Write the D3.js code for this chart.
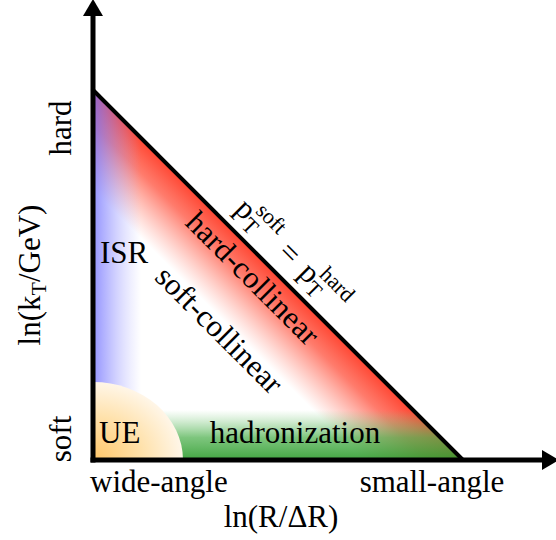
<!DOCTYPE html>
<html>
<head>
<meta charset="utf-8">
<script src="https://cdn.jsdelivr.net/npm/d3@7"></script>
<style>
  body { margin: 0; background: #fff; }
  text { font-family: "Liberation Serif", "Times New Roman", serif; fill: #000; }
</style>
</head>
<body>
<script>
// Lund plane sketch: normalised ln(R/dR) on x, ln(kT/GeV) on y
var dominio = [0, 1];
var triangulo = [[0, 1], [0, 0], [1, 0]];
var extremosY = ["soft", "hard"];
var extremosX = ["wide-angle", "small-angle"];
var regiones = ["ISR", "UE", "soft-collinear", "hard-collinear", "hadronization"];
var tituloX = "ln(R/\u0394R)";
var tituloY = ["ln(k", "T", "/GeV)"];
var frontera = [{ p: "p", sub: "T", sup: "soft" }, "=", { p: "p", sub: "T", sup: "hard" }];

var ancho = 556;
var altura = 540;

var svg = d3.select("body")
    .append("svg")
    .attr("width", ancho)
    .attr("height", altura);

var escalaX = d3.scaleLinear().domain(dominio).range([93, 463]);
var escalaY = d3.scaleLinear().domain(dominio).range([460, 90]);

var defs = svg.append("defs");

var puntos = triangulo.map(function (d) { return [escalaX(d[0]), escalaY(d[1])]; });

defs.append("clipPath").attr("id", "clipTri")
    .append("polygon")
    .attr("points", puntos.map(function (p) { return p.join(","); }).join(" "));

// red band along the hypotenuse, gradient perpendicular to it
var rojo = defs.append("linearGradient").attr("id", "gradRojo")
    .attr("gradientUnits", "userSpaceOnUse")
    .attr("x1", escalaX(0.5)).attr("y1", escalaY(0.5))
    .attr("x2", escalaX(0.5) - 50).attr("y2", escalaY(0.5) + 50);
rojo.append("stop").attr("offset", 0).attr("stop-color", "rgb(255,70,50)").attr("stop-opacity", 1);
rojo.append("stop").attr("offset", 0.35).attr("stop-color", "rgb(255,80,60)").attr("stop-opacity", 0.75);
rojo.append("stop").attr("offset", 1).attr("stop-color", "rgb(255,120,100)").attr("stop-opacity", 0);

var azul = defs.append("linearGradient").attr("id", "gradAzul")
    .attr("gradientUnits", "userSpaceOnUse")
    .attr("x1", escalaX(0)).attr("y1", 0)
    .attr("x2", escalaX(0) + 48).attr("y2", 0);
azul.append("stop").attr("offset", 0).attr("stop-color", "rgb(110,110,255)").attr("stop-opacity", 0.75);
azul.append("stop").attr("offset", 0.5).attr("stop-color", "rgb(130,130,255)").attr("stop-opacity", 0.35);
azul.append("stop").attr("offset", 1).attr("stop-color", "rgb(160,160,255)").attr("stop-opacity", 0);

var verde = defs.append("linearGradient").attr("id", "gradVerde")
    .attr("gradientUnits", "userSpaceOnUse")
    .attr("x1", 0).attr("y1", escalaY(0))
    .attr("x2", 0).attr("y2", escalaY(0) - 50);
verde.append("stop").attr("offset", 0).attr("stop-color", "rgb(45,155,45)").attr("stop-opacity", 0.9);
verde.append("stop").attr("offset", 0.45).attr("stop-color", "rgb(75,175,75)").attr("stop-opacity", 0.72);
verde.append("stop").attr("offset", 1).attr("stop-color", "rgb(120,200,120)").attr("stop-opacity", 0);

var naranja = defs.append("radialGradient").attr("id", "gradNaranja");
naranja.append("stop").attr("offset", 0).attr("stop-color", "rgb(255,198,105)");
naranja.append("stop").attr("offset", 0.55).attr("stop-color", "rgb(255,225,170)");
naranja.append("stop").attr("offset", 1).attr("stop-color", "rgb(255,246,232)");

var zonas = svg.append("g").attr("clip-path", "url(#clipTri)");

zonas.append("rect")
    .attr("x", escalaX(0)).attr("y", escalaY(1))
    .attr("width", escalaX(1) - escalaX(0)).attr("height", escalaY(0) - escalaY(1))
    .attr("fill", "url(#gradRojo)");

zonas.append("rect")
    .attr("x", escalaX(0)).attr("y", escalaY(1))
    .attr("width", 60).attr("height", escalaY(0) - escalaY(1))
    .attr("fill", "url(#gradAzul)");

zonas.append("rect")
    .attr("x", escalaX(0)).attr("y", escalaY(0) - 55)
    .attr("width", escalaX(1) - escalaX(0)).attr("height", 55)
    .attr("fill", "url(#gradVerde)");

zonas.append("ellipse")
    .attr("cx", escalaX(0)).attr("cy", escalaY(0))
    .attr("rx", 90).attr("ry", 78)
    .attr("fill", "url(#gradNaranja)");

// hypotenuse p_T^soft = p_T^hard
svg.append("line")
    .attr("x1", escalaX(0)).attr("y1", escalaY(1))
    .attr("x2", escalaX(1)).attr("y2", escalaY(0))
    .attr("stroke", "#000")
    .attr("stroke-width", 4)
    .attr("stroke-linecap", "round");

// axes with arrows
svg.append("line")
    .attr("x1", escalaX(0)).attr("y1", escalaY(0) + 2.5)
    .attr("x2", escalaX(0)).attr("y2", 14)
    .attr("stroke", "#000").attr("stroke-width", 5);
svg.append("polygon")
    .attr("points", [[escalaX(0), -1], [escalaX(0) - 10, 16], [escalaX(0) + 10, 16]].join(" "))
    .attr("fill", "#000");

svg.append("line")
    .attr("x1", escalaX(0) - 2.5).attr("y1", escalaY(0))
    .attr("x2", 544).attr("y2", escalaY(0))
    .attr("stroke", "#000").attr("stroke-width", 5);
svg.append("polygon")
    .attr("points", [[559, escalaY(0)], [542, escalaY(0) - 10], [542, escalaY(0) + 10]].join(" "))
    .attr("fill", "#000");

var tam = 31;
var tamPeq = 22;

// end labels on the axes
svg.append("text").attr("transform", "translate(71,439) rotate(-90)")
    .attr("text-anchor", "middle").style("font-size", tam + "px").text(extremosY[0]);
svg.append("text").attr("transform", "translate(71,128) rotate(-90)")
    .attr("text-anchor", "middle").style("font-size", tam + "px").text(extremosY[1]);

svg.append("text").attr("x", 90).attr("y", 492)
    .style("font-size", tam + "px").text(extremosX[0]);
svg.append("text").attr("x", 432).attr("y", 492)
    .attr("text-anchor", "middle").style("font-size", tam + "px").text(extremosX[1]);

svg.append("text").attr("x", 281).attr("y", 527)
    .attr("text-anchor", "middle").style("font-size", tam + "px").text(tituloX);

var ty = svg.append("text").attr("transform", "translate(40,275) rotate(-90)")
    .attr("text-anchor", "middle").style("font-size", tam + "px");
ty.append("tspan").text(tituloY[0]);
ty.append("tspan").attr("dy", 6).style("font-size", tamPeq + "px").text(tituloY[1]);
ty.append("tspan").attr("dy", -6).text(tituloY[2]);

// region names
svg.append("text").attr("x", 100).attr("y", 263).style("font-size", tam + "px").text(regiones[0]);
svg.append("text").attr("x", 99).attr("y", 443).style("font-size", tam + "px").text(regiones[1]);
svg.append("text").attr("transform", "translate(212,337) rotate(45)")
    .attr("text-anchor", "middle").style("font-size", tam + "px").text(regiones[2]);
svg.append("text").attr("transform", "translate(245.5,285.5) rotate(45)")
    .attr("text-anchor", "middle").style("font-size", tam + "px").text(regiones[3]);
svg.append("text").attr("x", 295).attr("y", 443)
    .attr("text-anchor", "middle").style("font-size", tam + "px").text(regiones[4]);

// boundary label, built in a frame rotated along the hypotenuse
var g = svg.append("g").attr("transform", "translate(283,260) rotate(45)");
var piezas = [
    { d: frontera[0], x: -70 },
    { d: frontera[1], x: 0 },
    { d: frontera[2], x: 20 }
];
piezas.forEach(function (pz) {
    if (typeof pz.d === "string") {
        g.append("text").attr("x", pz.x).attr("y", 0)
            .attr("text-anchor", "middle").style("font-size", tam + "px").text(pz.d);
    } else {
        g.append("text").attr("x", pz.x).attr("y", 0).style("font-size", tam + "px").text(pz.d.p);
        g.append("text").attr("x", pz.x + 16).attr("y", 6.5).style("font-size", tamPeq + "px").text(pz.d.sub);
        g.append("text").attr("x", pz.x + 16).attr("y", -14).style("font-size", tamPeq + "px").text(pz.d.sup);
    }
});
</script>
</body>
</html>
